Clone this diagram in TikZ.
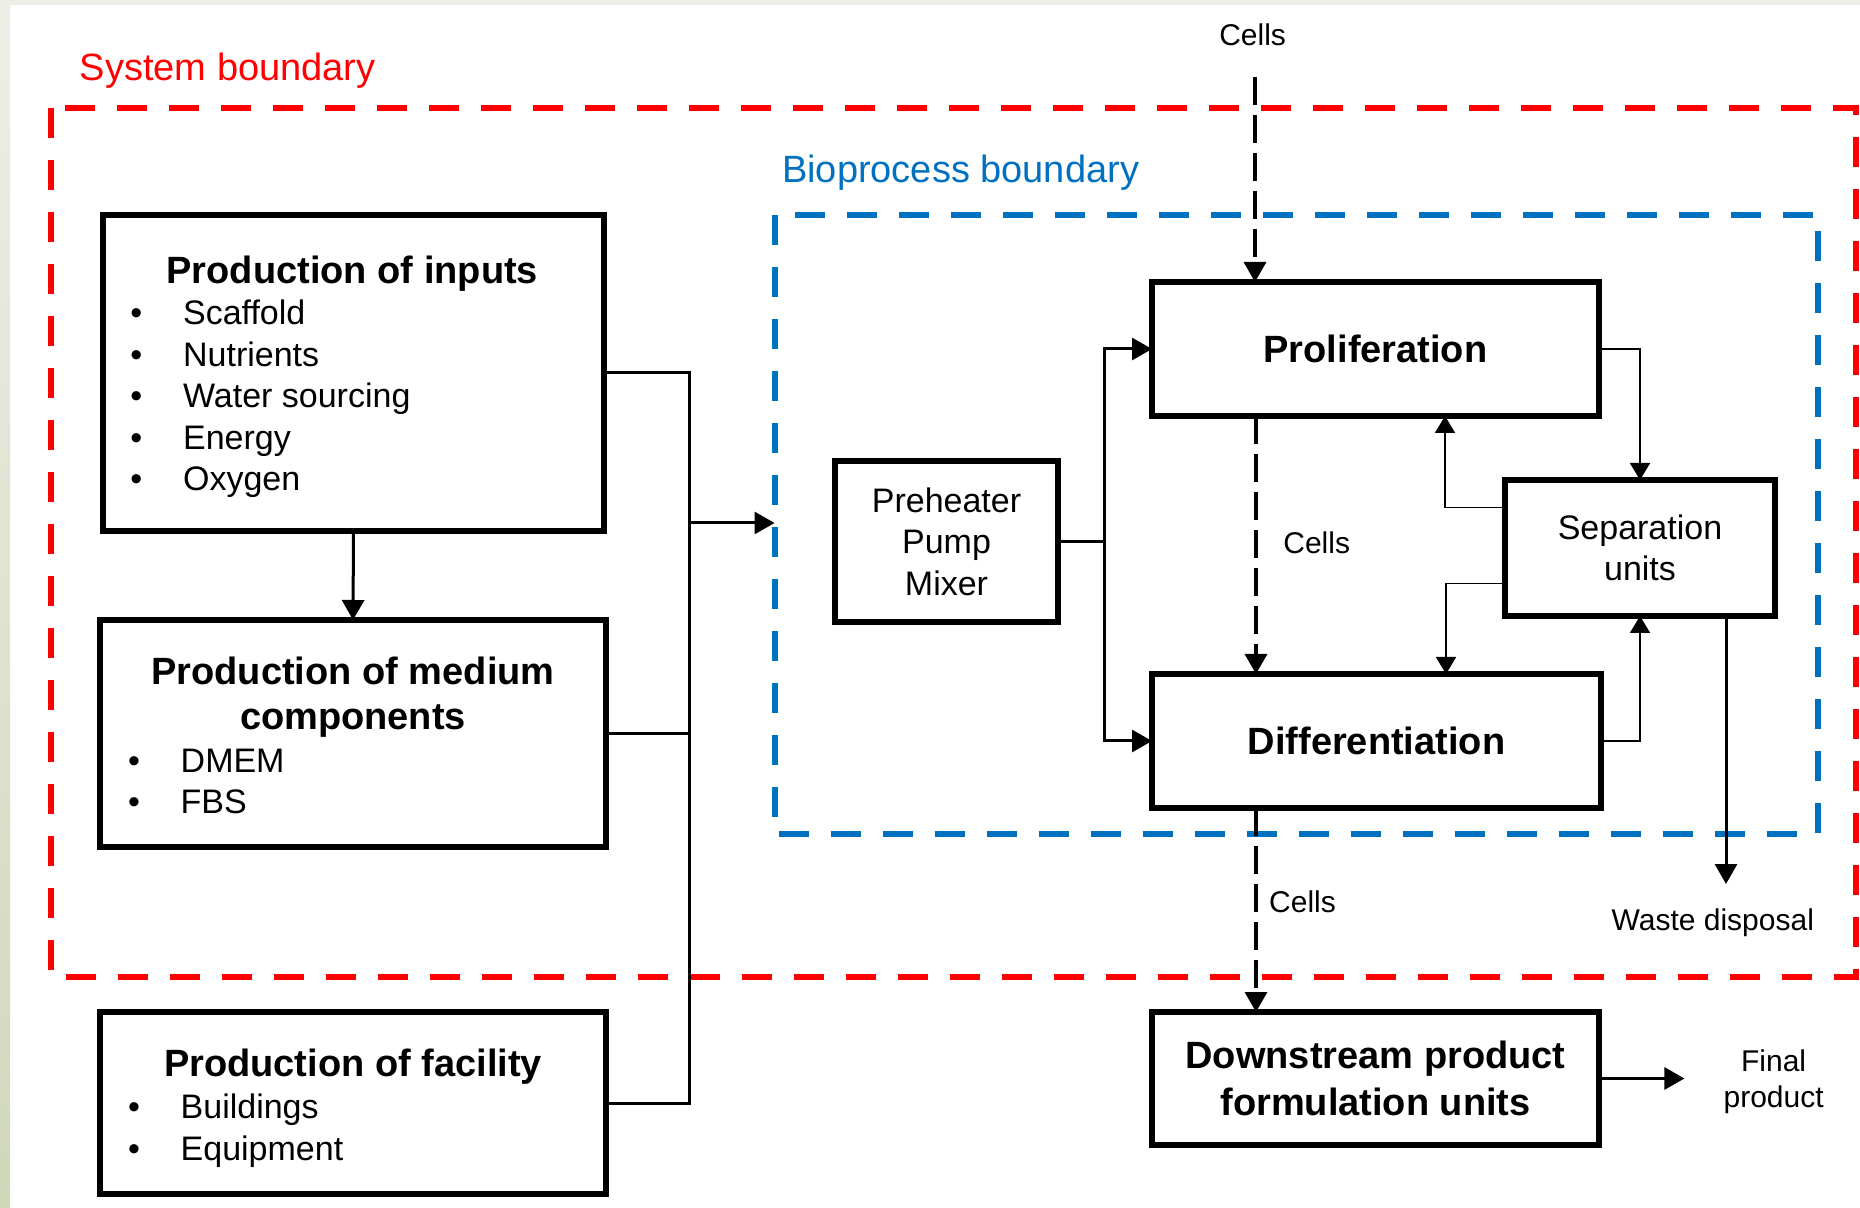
\documentclass[tikz,border=0pt]{standalone}
\usepackage{fontspec}
\setmainfont{Liberation Sans}
\usetikzlibrary{arrows.meta}
\definecolor{sysred}{RGB}{255,0,0}
\definecolor{bioblue}{RGB}{0,112,192}
\definecolor{stripA}{RGB}{238,238,230}
\definecolor{stripB}{RGB}{208,216,186}
\begin{document}
\begin{tikzpicture}[x=0.5pt,y=-0.5pt,
 box/.style={draw, line width=3.2pt, inner sep=0pt, outer sep=0pt, align=center},
 ttl/.style={font=\fontsize{19}{23}\selectfont\bfseries, inner sep=0pt, anchor=base},
 itm/.style={font=\fontsize{17}{20.75}\selectfont, inner sep=0pt, anchor=base west},
 bul/.style={font=\fontsize{17}{20.75}\selectfont, inner sep=0pt, anchor=base},
 lbl/.style={font=\fontsize{15}{19}\selectfont, inner sep=0pt, anchor=base, align=center},
 flow/.style={line width=1.5pt, -{Triangle[length=10pt,width=11pt]}},
 link/.style={line width=1.5pt},
 thinflow/.style={line width=0.8pt, -{Triangle[length=8.5pt,width=10pt]}},
 cellflow/.style={line width=1.7pt, dash pattern=on 14pt off 5pt, -{Triangle[length=10pt,width=11pt]}},
 sysline/.style={draw=sysred, line width=3pt, dash pattern=on 15pt off 11pt},
 bioline/.style={draw=bioblue, line width=3pt, dash pattern=on 15pt off 11pt}]
% background
\fill[white] (0,0) rectangle (1860,1208);
\fill[stripA] (0,0) rectangle (1860,5);
\shade[top color=stripA, bottom color=stripB] (0,0) rectangle (10,1208);
\useasboundingbox (0,0) rectangle (1860,1208);

% boundaries
\draw[sysline] (51,108) rectangle (1856,977);
\draw[bioline] (774.6,214.7) rectangle (1818.4,834);
\node[anchor=base west, inner sep=0pt, text=sysred, font=\fontsize{19}{23}\selectfont] (syslabel) at (79.5,80.5) {System boundary};
\node[anchor=base west, inner sep=0pt, text=bioblue, font=\fontsize{19}{23}\selectfont] (biolabel) at (781.7,183) {Bioprocess boundary};

% left boxes
\node[box, minimum width=250.5pt, minimum height=158pt] (inputs) at (353.5,373) {};
\node[ttl] (inputsT) at (352.3,284) {Production of inputs};
\node[bul] (ib1) at (136.4,325) {•};
\node[bul] (ib2) at (136.4,366.5) {•};
\node[bul] (ib3) at (136.4,408) {•};
\node[bul] (ib4) at (136.4,449.5) {•};
\node[bul] (ib5) at (136.4,491) {•};
\node[itm] (ii1) at (182.7,325) {Scaffold};
\node[itm] (ii2) at (182.7,366.5) {Nutrients};
\node[itm] (ii3) at (182.7,408) {Water sourcing};
\node[itm] (ii4) at (182.7,449.5) {Energy};
\node[itm] (ii5) at (182.7,491) {Oxygen};

\node[box, minimum width=253pt, minimum height=113.5pt] (medium) at (353,733.5) {};
\node[ttl] (mediumT1) at (353,685) {Production of medium};
\node[ttl] (mediumT2) at (353,730) {components};
\node[bul] (mb1) at (134,772.4) {•};
\node[bul] (mb2) at (134,813.9) {•};
\node[itm] (mi1) at (180.3,772.4) {DMEM};
\node[itm] (mi2) at (180.3,813.9) {FBS};

\node[box, minimum width=253pt, minimum height=91.25pt] (facility) at (353,1103) {};
\node[ttl] (facilityT) at (353,1076.4) {Production of facility};
\node[bul] (fb1) at (134,1118.7) {•};
\node[bul] (fb2) at (134,1160.2) {•};
\node[itm] (fi1) at (180.3,1118.7) {Buildings};
\node[itm] (fi2) at (180.3,1160.2) {Equipment};

% bioprocess boxes
\node[box, minimum width=111.5pt, minimum height=80.5pt, font=\fontsize{17}{20.75}\selectfont] (pre) at (946.5,541.5) {Preheater\\Pump\\Mixer};
\node[box, minimum width=223.5pt, minimum height=67pt, font=\fontsize{19}{23}\selectfont\bfseries] (prolif) at (1375.5,349) {Proliferation};
\node[box, minimum width=224.5pt, minimum height=67pt, font=\fontsize{19}{23}\selectfont\bfseries] (diff) at (1376.5,741) {Differentiation};
\node[box, minimum width=135pt, minimum height=68pt, font=\fontsize{17}{20.75}\selectfont] (sep) at (1640,548) {Separation\\units};
\node[box, minimum width=223.5pt, minimum height=66.5pt, font=\fontsize{19}{23.2}\selectfont\bfseries] (down) at (1375.5,1078.5) {Downstream product\\formulation units};

% coordinates
\coordinate (busbot) at (689,1103);
\coordinate (busmid) at (689,523);
\coordinate (bioin) at (774.6,523);
\coordinate (split) at (1104.4,541.5);
\coordinate (cellsin) at (1255,77);
\coordinate (wasteend) at (1726,884);
\coordinate (finalend) at (1684.4,1078.5);

% left connectors
\draw[flow] (inputs.south) -- (medium.north);
\draw[link] (inputs.east) -| (busbot) -- (facility.east);
\draw[link] (medium.east) -- (medium.east -| busbot);
\draw[flow] (busmid) -- (bioin);

% bioprocess connectors
\draw[link] (pre.east) -- (split);
\draw[flow] (split) |- (prolif.west);
\draw[flow] (split) |- (diff.west);
\draw[thinflow] (prolif.east) -| (sep.north);
\draw[thinflow] ([yshift=20.15pt]sep.west) -| ([xshift=34.75pt]prolif.south);
\draw[thinflow] ([yshift=-17.8pt]sep.west) -| ([xshift=34.75pt]diff.north);
\draw[thinflow] (diff.east) -| (sep.south);
\draw[flow] ([xshift=43pt]sep.south) -- (wasteend);

% cells
\draw[cellflow] (cellsin) -- (cellsin |- prolif.north);
\draw[cellflow] ([xshift=-59.75pt]prolif.south) -- ([xshift=-60.25pt]diff.north);
\draw[cellflow] ([xshift=-60.25pt]diff.south) -- ([xshift=-59.75pt]down.north);
\draw[flow] (down.east) -- (finalend);

% labels
\node[lbl] (cellsTop) at (1252.6,46) {Cells};
\node[lbl] (cellsMid) at (1316.7,554) {Cells};
\node[lbl] (cellsLow) at (1302.5,912) {Cells};
\node[lbl] (waste) at (1712.8,930) {Waste disposal};
\node[lbl] (final1) at (1773.6,1071.6) {Final};
\node[lbl] (final2) at (1773.6,1107.5) {product};
\end{tikzpicture}
\end{document}
